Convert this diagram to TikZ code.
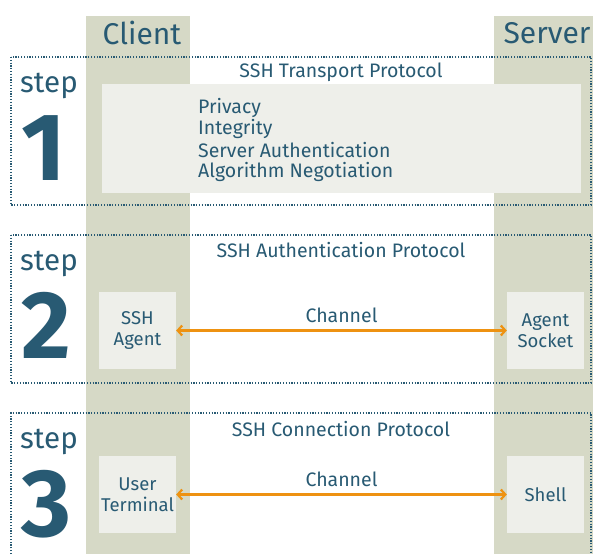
\documentclass[tikz,border=0pt]{standalone}
\usepackage{fontspec}
\setmainfont{Fira Sans}
\usetikzlibrary{arrows.meta}
\definecolor{txt}{HTML}{285A73}
\definecolor{colbg}{HTML}{D6D9C6}
\definecolor{boxbg}{HTML}{EEEFEA}
\definecolor{org}{HTML}{EE9211}
\begin{document}
\begin{tikzpicture}[x=1pt,y=-1pt,
  every node/.style={text=txt, inner sep=0pt},
  colhead/.style={font=\fontsize{30}{32}\selectfont},
  steplbl/.style={font=\fontsize{29.5}{31}\selectfont},
  stepnum/.style={font=\fontsize{96}{100}\selectfont\bfseries, anchor=base, text depth=0pt},
  proto/.style={font=\fontsize{19.5}{22}\selectfont},
  item/.style={font=\fontsize{19.5}{21}\selectfont, anchor=west},
  endbox/.style={fill=boxbg, minimum width=77pt, minimum height=77pt, align=center, font=\fontsize{18.5}{21}\selectfont},
  dotbox/.style={draw=txt, line width=1.2pt, dash pattern=on 1.2pt off 1.6pt},
  chan/.style={draw=org, line width=2.2pt, {Straight Barb[length=4.5pt,width=10pt]}-{Straight Barb[length=4.5pt,width=10pt]}},
  chanlbl/.style={font=\fontsize{19.5}{21}\selectfont}]
\useasboundingbox (0,0) rectangle (593,554);
\fill[white] (0,0) rectangle (593,554);
% columns
\fill[colbg] (86,16) rectangle (190,554);
\fill[colbg] (494,16) rectangle (593,554);
\node[colhead] (client) at (142,33) {Client};
\node[colhead] (server) at (547,33) {Server};
% step 1
\draw[dotbox] (11,57) rectangle (591,205);
\fill[boxbg] (102,84) rectangle (581,193);
\node[proto] (p1) at (341,72) {SSH Transport Protocol};
\node[item] (i1) at (198,108) {Privacy};
\node[item] (i2) at (198,129) {Integrity};
\node[item] (i3) at (198,150) {Server Authentication};
\node[item] (i4) at (198,172) {Algorithm Negotiation};
\node[steplbl] (s1) at (49,86) {step};
\node[stepnum] (n1) at (44,180) {1};
% step 2
\draw[dotbox] (11,235) rectangle (591,383);
\node[proto] (p2) at (341,250) {SSH Authentication Protocol};
\node[steplbl] (s2) at (49,264) {step};
\node[stepnum] (n2) at (46,358) {2};
\node[endbox] (agent) at (137.5,330.5) {SSH\\Agent};
\node[endbox] (socket) at (545.5,330.5) {Agent\\Socket};
\draw[chan] (agent) -- node[chanlbl, above=7pt] (c2) {Channel} (socket);
% step 3
\draw[dotbox] (11,554) -- (11,413) -- (591,413) -- (591,554);
\node[proto] (p3) at (341,429) {SSH Connection Protocol};
\node[steplbl] (s3) at (49,442) {step};
\node[stepnum] (n3) at (46,536) {3};
\node[endbox] (term) at (137.5,494.5) {User\\Terminal};
\node[endbox] (shell) at (545.5,494.5) {Shell};
\draw[chan] (term) -- node[chanlbl, above=7pt] (c3) {Channel} (shell);
\end{tikzpicture}
\end{document}
